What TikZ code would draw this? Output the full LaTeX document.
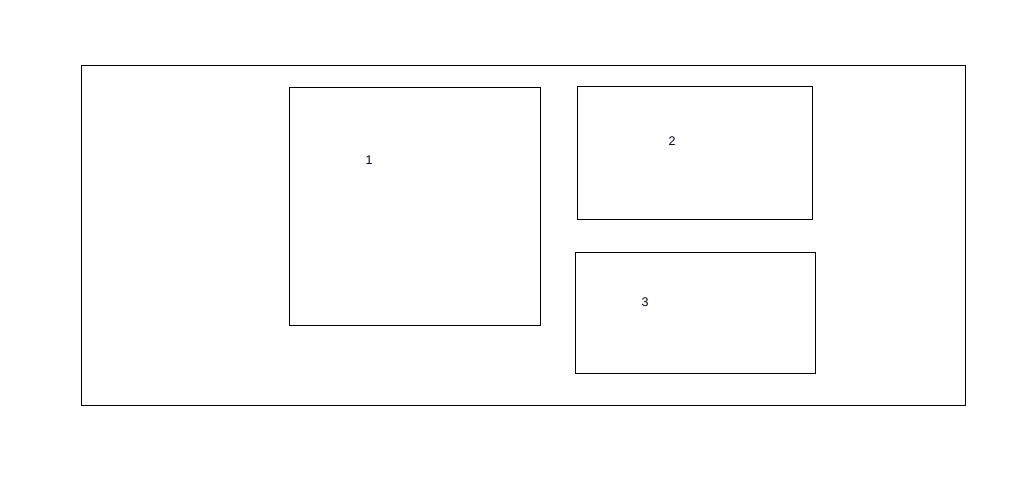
\documentclass[tikz,border=0pt]{standalone}
\usepackage{fontspec}
\setmainfont{Liberation Sans}
\begin{document}
\begin{tikzpicture}[x=1pt, y=-1pt, line width=1pt, font=\fontsize{12.5}{13}\selectfont,
	box/.style={draw, rectangle, inner sep=0pt, anchor=north west},
	num/.style={inner sep=0pt, text=black!85!blue}]
	\useasboundingbox (0,0) rectangle (1025,490);
	\node[box, minimum width=884pt, minimum height=340pt] (frame) at (80.5,64.5) {}; % khung ngoài
	\node[box, minimum width=251pt, minimum height=238pt] (b1) at (288.5,86.5) {};
	\node[box, minimum width=235pt, minimum height=133pt] (b2) at (576.5,85.5) {};
	\node[box, minimum width=240pt, minimum height=121pt] (b3) at (574.5,251.5) {};
	\node[num] (n1) at (369,160) {1};
	\node[num] (n2) at (672,141) {2};
	\node[num] (n3) at (645,302) {3};
\end{tikzpicture}
\end{document}
